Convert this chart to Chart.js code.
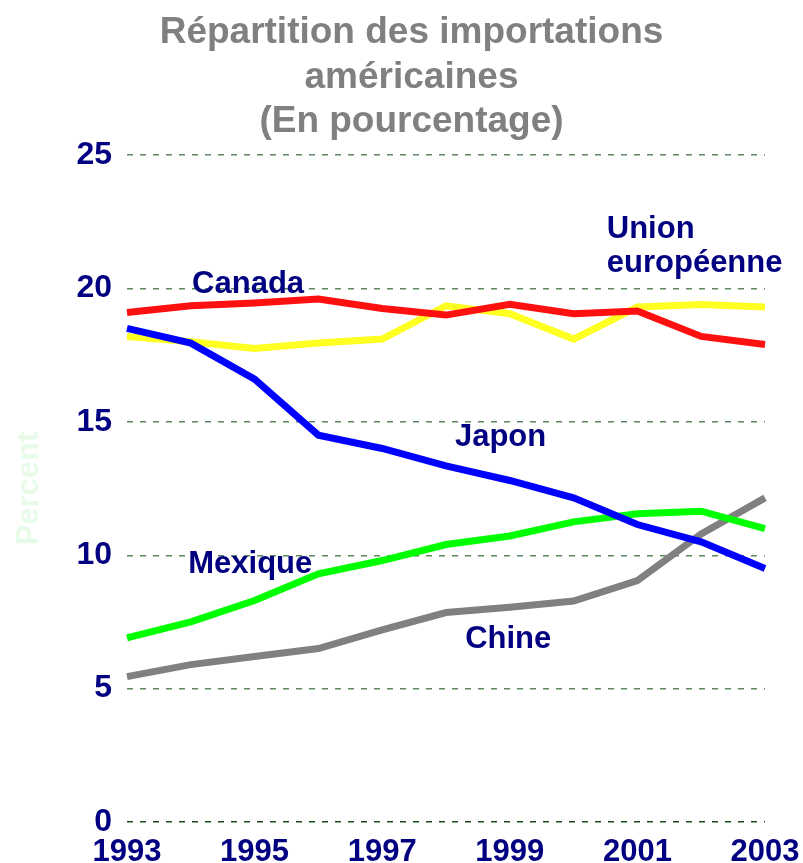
<!DOCTYPE html>
<html>
<head>
<meta charset="utf-8">
<script src="https://cdn.jsdelivr.net/npm/chart.js@4/dist/chart.umd.min.js"></script>
<style>
  html, body { margin: 0; padding: 0; background: #fff; overflow: hidden; }
  #wrap { width: 803px; height: 863px; position: relative; }
</style>
</head>
<body>
<div id="wrap"><canvas id="importChart"></canvas></div>
<script>
/* US import shares by partner, 1993-2003 (%) */

const YEARS = ['1993', '1994', '1995', '1996', '1997', '1998', '1999', '2000', '2001', '2002', '2003'];

const JAPON   = [18.5, 17.95, 16.6, 14.5, 14.0, 13.35, 12.8, 12.15, 11.15, 10.5, 9.5];
const CANADA  = [19.1, 19.35, 19.45, 19.6, 19.25, 19.0, 19.4, 19.05, 19.15, 18.2, 17.9];
const UE      = [18.2, 18.0, 17.75, 17.95, 18.1, 19.35, 19.05, 18.1, 19.3, 19.4, 19.3];
const MEXIQUE = [6.9, 7.5, 8.3, 9.3, 9.8, 10.4, 10.72, 11.25, 11.55, 11.65, 11.0];
const CHINE   = [5.45, 5.9, 6.2, 6.5, 7.2, 7.85, 8.05, 8.28, 9.05, 10.8, 12.15];

const Y_TICKS = [0, 5, 10, 15, 20, 25];

const FONT = "'Liberation Sans', Arial, sans-serif";
const NAVY = '#000080';

// series names written inside the plot, anchored in (category index, value) units
const SERIES_LABELS = [
  { lines: ['Canada'], x: 1.02, y: 19.83 },
  { lines: ['Union', 'européenne'], x: 7.52, y: 21.89 },
  { lines: ['Japon'], x: 5.14, y: 14.09 },
  { lines: ['Mexique'], x: 0.96, y: 9.33 },
  { lines: ['Chine'], x: 5.30, y: 6.52 }
];

const seriesLabels = {
  id: 'seriesLabels',
  afterDatasetsDraw(chart) {
    const { ctx, scales: { x, y } } = chart;
    ctx.save();
    ctx.font = 'bold 31px ' + FONT;
    ctx.fillStyle = NAVY;
    ctx.textAlign = 'left';
    ctx.textBaseline = 'alphabetic';
    SERIES_LABELS.forEach(l => {
      const px = x.getPixelForValue(l.x);
      const py = y.getPixelForValue(l.y);
      l.lines.forEach((t, i) => ctx.fillText(t, px, py + i * 34));
    });
    ctx.restore();
  }
};

function line(label, data, color) {
  return { label, data, borderColor: color, backgroundColor: color, borderWidth: 7,
    tension: 0, pointRadius: 0, pointHoverRadius: 0, borderJoinStyle: 'miter', fill: false };
}

new Chart(document.getElementById('importChart'), {
  type: 'line',
  data: {
    labels: YEARS,
    datasets: [
      line('Japon', JAPON, '#0000ff'),
      line('Canada', CANADA, '#ff1010'),
      line('Union européenne', UE, '#ffff22'),
      line('Mexique', MEXIQUE, '#00ff00'),
      line('Chine', CHINE, '#808080')
    ]
  },
  options: {
    responsive: true, maintainAspectRatio: false, animation: false,
    layout: { padding: { left: 20, right: 0, top: 0, bottom: 0 } },
    plugins: {
      legend: { display: false },
      tooltip: { enabled: false },
      title: {
        display: true,
        text: ['Répartition des importations', 'américaines', '(En pourcentage)'],
        color: '#808080',
        font: { family: FONT, size: 37, weight: 'bold', lineHeight: 1.2 },
        padding: { top: 11, bottom: 10.8 }
      }
    },
    scales: {
      x: {
        grid: { display: false },
        border: { display: false },
        ticks: {
          color: NAVY, font: { family: FONT, size: 31, weight: 'bold' }, padding: 4,
          autoSkip: false, maxRotation: 0,
          callback: (v, i) => (i % 2 === 0 ? YEARS[i] : '')
        },
        afterFit: s => { s.height = 41; s.paddingLeft = 0; s.paddingRight = 38; }
      },
      y: {
        min: 0, max: 25,
        afterBuildTicks: s => { s.ticks = Y_TICKS.map(v => ({ value: v })); },
        grid: {
          drawTicks: false, lineWidth: 1.4,
          color: c => (c.tick && c.tick.value === 0 ? '#1c4a1c' : '#5f865f')
        },
        border: { display: false, dash: [6, 7] },
        ticks: { color: NAVY, font: { family: FONT, size: 32, weight: 'bold' }, padding: 15 },
        title: {
          display: true, text: 'Percent', color: '#e8fbe8',
          font: { family: FONT, size: 31, weight: 'bold', lineHeight: 0.6 },
          padding: { top: 0, bottom: 0 }
        },
        afterFit: s => { s.width = 107; }
      }
    }
  },
  plugins: [seriesLabels]
});
</script>
</body>
</html>
